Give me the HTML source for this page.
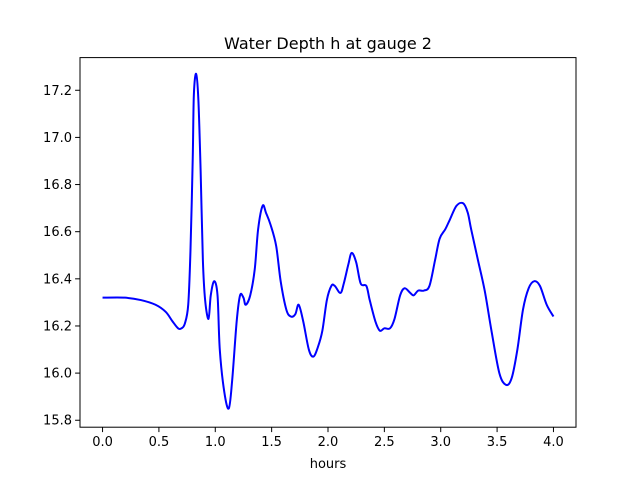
<!DOCTYPE html>
<html><head><meta charset="utf-8"><style>
body{margin:0;background:#fff;}
svg text{font-family:"DejaVu Sans","Liberation Sans",sans-serif;fill:#000;}
</style></head><body>
<svg id="chart" width="640" height="480" xmlns="http://www.w3.org/2000/svg">
<rect x="0" y="0" width="640" height="480" fill="#fff"/>
<text x="328" y="49" font-size="16" text-anchor="middle">Water Depth h at gauge 2</text>
<g id="ticks"></g>
<path id="line" fill="none" stroke="#0000ff" stroke-width="2" stroke-linejoin="round"/>
<rect x="80" y="57.6" width="496" height="369.6" fill="none" stroke="#000" stroke-width="1"/>
<text x="328" y="468" font-size="13" text-anchor="middle">hours</text>
</svg>
<script>
const hours=[0,0.2,0.34,0.47,0.56,0.62,0.67,0.70,0.73,0.76,0.78,0.80,0.81,0.83,0.85,0.87,0.89,0.91,0.94,0.96,0.99,1.02,1.04,1.08,1.12,1.15,1.19,1.22,1.25,1.27,1.31,1.35,1.38,1.42,1.45,1.49,1.54,1.58,1.63,1.67,1.71,1.74,1.78,1.83,1.87,1.91,1.95,1.99,2.03,2.06,2.11,2.14,2.18,2.21,2.25,2.29,2.34,2.37,2.42,2.46,2.50,2.55,2.59,2.64,2.68,2.73,2.76,2.80,2.85,2.90,2.95,2.99,3.04,3.08,3.14,3.20,3.24,3.27,3.33,3.39,3.45,3.52,3.58,3.63,3.68,3.73,3.78,3.83,3.88,3.94,4.00];
const depth=[16.32,16.32,16.31,16.29,16.26,16.22,16.19,16.19,16.21,16.29,16.52,16.91,17.18,17.27,17.16,16.86,16.48,16.31,16.23,16.33,16.39,16.33,16.10,15.92,15.85,15.97,16.22,16.33,16.32,16.29,16.33,16.44,16.61,16.71,16.68,16.63,16.54,16.39,16.27,16.24,16.25,16.29,16.22,16.10,16.07,16.11,16.18,16.31,16.37,16.37,16.34,16.38,16.46,16.51,16.47,16.38,16.37,16.31,16.22,16.18,16.19,16.19,16.23,16.33,16.36,16.34,16.33,16.35,16.35,16.37,16.48,16.57,16.61,16.65,16.71,16.72,16.68,16.61,16.48,16.35,16.18,16.00,15.95,15.98,16.10,16.27,16.36,16.39,16.37,16.29,16.24];
const xTicks=[0,0.5,1,1.5,2,2.5,3,3.5,4];
const xTickLabels=["0.0","0.5","1.0","1.5","2.0","2.5","3.0","3.5","4.0"];
const yTicks=[15.8,16.0,16.2,16.4,16.6,16.8,17.0,17.2];
const yTickLabels=["15.8","16.0","16.2","16.4","16.6","16.8","17.0","17.2"];
const X0=80,X1=576,Y0=427.2,Y1=57.6,xmin=-0.2,xmax=4.2,ymin=15.7705,ymax=17.3386;
const sx=v=>X0+(v-xmin)/(xmax-xmin)*(X1-X0);
const sy=v=>Y0-(v-ymin)/(ymax-ymin)*(Y0-Y1);
const NS="http://www.w3.org/2000/svg",g=document.getElementById('ticks');
function mk(t,a){const e=document.createElementNS(NS,t);for(const k in a)e.setAttribute(k,a[k]);g.appendChild(e);return e;}
xTicks.forEach((v,i)=>{const x=sx(v);
const l=mk('line',{x1:x,x2:x,y1:Y0,y2:Y0+4.9,stroke:'#000'});


const t=mk('text',{x:x,y:Y0+19,'font-size':'13','text-anchor':'middle'});t.textContent=xTickLabels[i];

});
yTicks.forEach((v,i)=>{const y=sy(v);
const l=mk('line',{x1:X0-4.9,x2:X0,y1:y,y2:y,stroke:'#000'});


const t=mk('text',{x:X0-8,y:y+4.5,'font-size':'13','text-anchor':'end'});t.textContent=yTickLabels[i];

});
const P=hours.map((h,i)=>[sx(h),sy(depth[i])]);
let d='M'+P[0][0]+','+P[0][1];
for(let i=0;i<P.length-1;i++){const p0=P[Math.max(0,i-1)],p1=P[i],p2=P[i+1],p3=P[Math.min(P.length-1,i+2)];
const c1=[p1[0]+(p2[0]-p0[0])/6,p1[1]+(p2[1]-p0[1])/6],c2=[p2[0]-(p3[0]-p1[0])/6,p2[1]-(p3[1]-p1[1])/6];
d+=' C'+c1+' '+c2+' '+p2;}
document.getElementById('line').setAttribute('d',d);
</script>
</body></html>
